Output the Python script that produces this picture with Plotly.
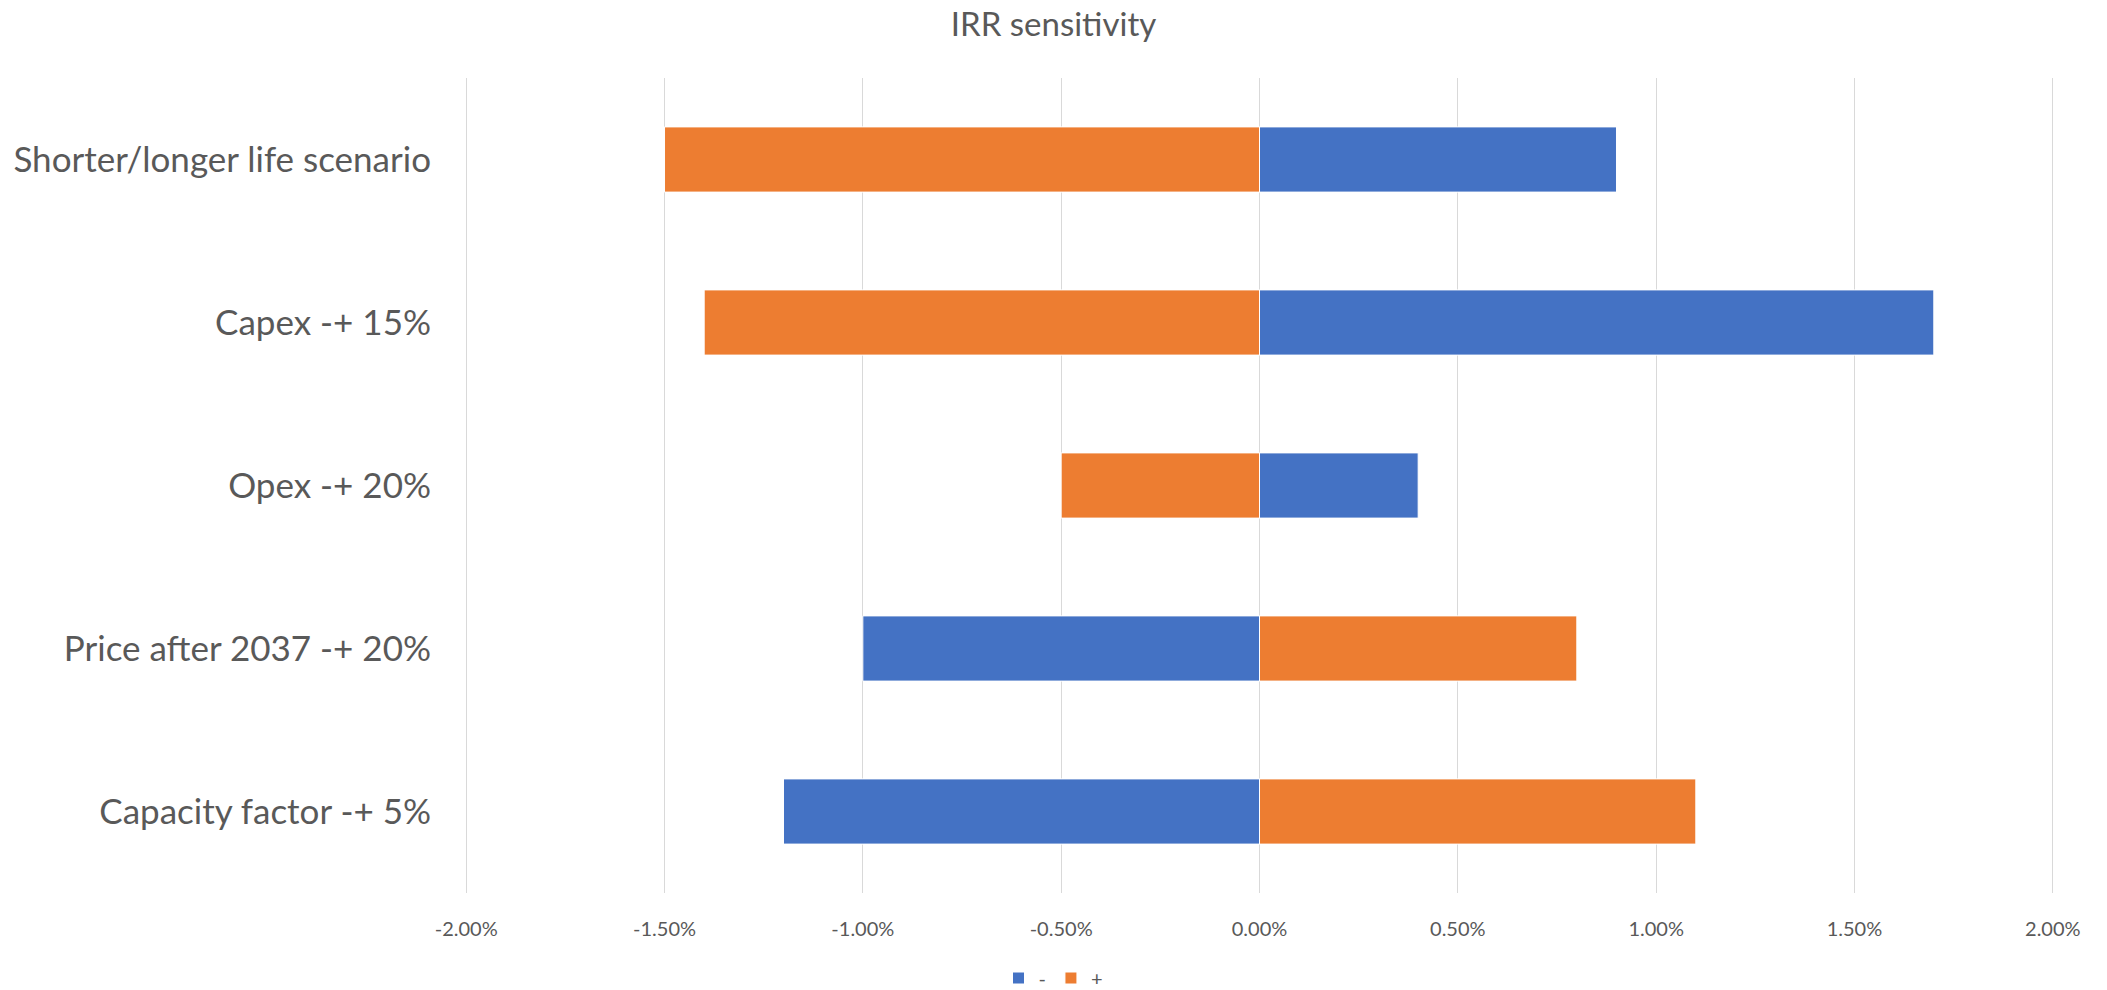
import plotly.graph_objects as go

categories = ["Shorter/longer life scenario", "Capex -+ 15%", "Opex -+ 20%",
              "Price after 2037 -+ 20%", "Capacity factor -+ 5%"]
minus_vals = [0.009, 0.017, 0.004, -0.010, -0.012]
plus_vals = [-0.015, -0.014, -0.005, 0.008, 0.011]
tick_vals = [-0.02, -0.015, -0.01, -0.005, 0.0, 0.005, 0.01, 0.015, 0.02]
tick_text = ["-2.00%", "-1.50%", "-1.00%", "-0.50%", "0.00%", "0.50%", "1.00%", "1.50%", "2.00%"]

grey = "#595959"
fig = go.Figure()
fig.add_trace(go.Bar(y=categories, x=minus_vals, orientation="h", name="-",
                     marker=dict(color="#4472C4", line=dict(color="white", width=1))))
fig.add_trace(go.Bar(y=categories, x=plus_vals, orientation="h", name="+",
                     marker=dict(color="#ED7D31", line=dict(color="white", width=1))))

fig.update_layout(
    width=2107, height=990,
    barmode="relative", bargap=0.6,
    paper_bgcolor="white", plot_bgcolor="white",
    margin=dict(l=465, r=53, t=78, b=97),
    title=dict(text="IRR sensitivity", x=0.5, xref="container", xanchor="center",
               y=1 - 24/990, yref="container", yanchor="middle",
               font=dict(family="Lato, Open Sans, sans-serif", size=33, color=grey)),
    legend=dict(orientation="h", x=0.5, xref="container", xanchor="center",
                y=1 - 978/990, yref="container", yanchor="middle",
                font=dict(family="Lato, sans-serif", size=20, color=grey),
                traceorder="normal"),
    xaxis=dict(range=[-0.02003, 0.02003], tickvals=tick_vals, ticktext=tick_text,
               showgrid=True, gridcolor="#d9d9d9", gridwidth=1.3,
               zeroline=True, zerolinecolor="#d9d9d9", zerolinewidth=1.3,
               showline=False, ticks="", ticklabelstandoff=22,
               tickfont=dict(family="Lato, sans-serif", size=20, color=grey)),
    yaxis=dict(categoryorder="array", categoryarray=categories, autorange="reversed",
               showgrid=False, showline=False, ticks="", ticklabelstandoff=33,
               tickfont=dict(family="Lato, Open Sans, sans-serif", size=35, color=grey)),
)

fig.write_html("out.html")
